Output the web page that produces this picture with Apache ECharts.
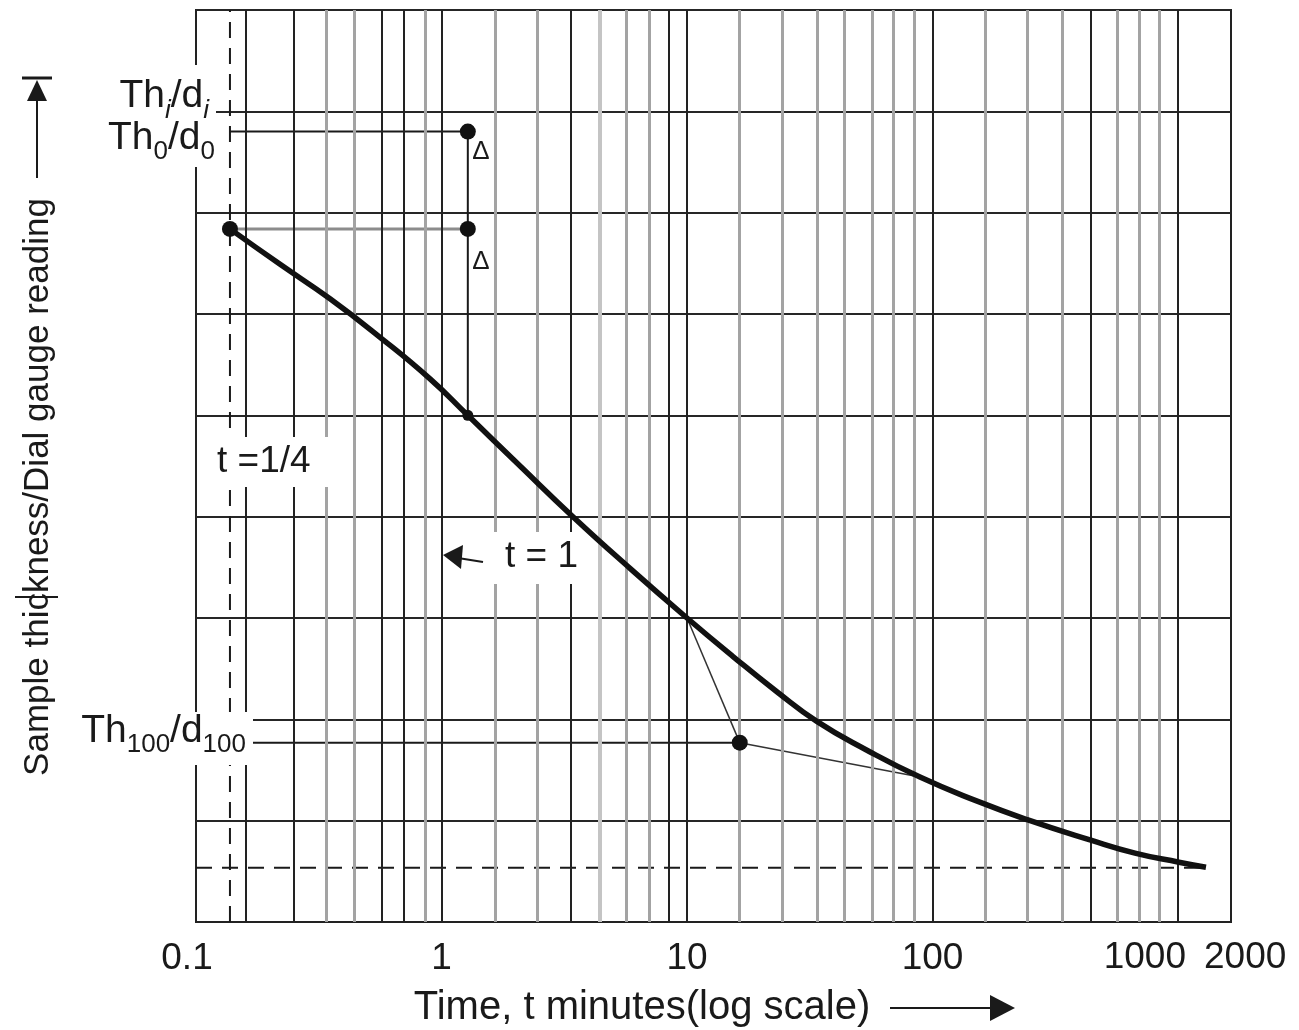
<!DOCTYPE html>
<html>
<head>
<meta charset="utf-8">
<title>Consolidation curve</title>
<script src="https://cdn.jsdelivr.net/npm/echarts@6/dist/echarts.min.js"></script>
<style>
  html, body { margin: 0; padding: 0; background: #fff; }
  #chart { width: 1299px; height: 1030px; }
</style>
</head>
<body>
<div id="chart"></div>
<script>
// curve: time (min, log scale) and dial reading (grid units, 0 = bottom)
var curveT = [0.1375, 0.220, 0.3515, 0.562, 0.898, 1.28, 2.09, 3.43, 5.86, 10, 15.4, 23.3, 33.8, 53.6, 88.9, 153, 243, 438, 668, 1009, 1300];
var curveR = [6.84, 6.49, 6.15, 5.77, 5.36, 5.00, 4.50, 4.00, 3.49, 3.00, 2.62, 2.27, 1.98, 1.70, 1.43, 1.19, 1.01, 0.81, 0.68, 0.59, 0.54];

// construction points
var dotT = [0.1375, 1.28, 1.28, 1.28, 16.4];
var dotR = [6.84, 7.80, 6.84, 5.00, 1.77];
var dotSize = [16, 16, 16, 11, 16];

// construction lines [t, r]
var th0Line = [[0.1375, 7.80], [1.28, 7.80]];
var startLine = [[0.1375, 6.84], [1.28, 6.84]];
var deltaLine = [[1.28, 7.80], [1.28, 5.00]];
var tan1 = [[10, 3.00], [16.4, 1.77]];
var tan2 = [[16.4, 1.77], [88.9, 1.43]];
var th100Line = [[0.1, 1.77], [16.4, 1.77]];
var dashV = [[0.1375, 0], [0.1375, 9]];
var dashH = [[0.1, 0.536], [1300, 0.536]];

// vertical grid of the printed log paper
var darkGrid = [0.164, 0.246, 0.567, 0.70, 1, 3.37, 8.45, 10, 100, 442, 1000];
var grayGrid = [0.338, 0.444, 0.857, 1.65, 2.45, 5.64, 7.0, 16.4, 24.4, 33.8, 43.6, 56.7, 69.0, 84.1, 164, 243, 337, 564, 694, 837];
var lightGrid = [4.42];

var tickLabels = ['0.1', '1', '10', '100', ''];
var extraLabels = ['1000', '2000'];

var FONT = '"Liberation Sans", Arial, Helvetica, sans-serif';
var INK = '#1a1a1a';

function seg(data, color, width, type, z) {
  return {
    type: 'line', data: data, z: z || 3, silent: true,
    symbol: 'none', animation: false,
    lineStyle: { color: color, width: width, type: type || 'solid' }
  };
}

function gridLines(vals, color, width) {
  return {
    type: 'line', data: [], z: 1, silent: true, animation: false,
    markLine: {
      silent: true, symbol: ['none', 'none'], animation: false,
      label: { show: false },
      lineStyle: { color: color, width: width, type: 'solid' },
      data: vals.map(function (v) { return { xAxis: v }; })
    }
  };
}

var subRich = {
  m: { fontSize: 39, fontFamily: FONT, color: INK, lineHeight: 39 },
  s: { fontSize: 26, fontFamily: FONT, color: INK, lineHeight: 26, padding: [28, 0, 0, 0] },
  si: { fontSize: 26, fontFamily: FONT, color: INK, fontStyle: 'italic', lineHeight: 26, padding: [30, 0, 0, 0] }
};

function box(x, y, w, h) {
  return { type: 'rect', z: 100, silent: true, shape: { x: x, y: y, width: w, height: h }, style: { fill: '#fff' } };
}
function txt(x, y, text, size, align, extra) {
  var el = {
    type: 'text', z: 101, silent: true, x: x, y: y,
    style: { text: text, fontSize: size, fontFamily: FONT, fill: INK, align: align || 'left', verticalAlign: 'middle' }
  };
  if (extra) { for (var k in extra) el[k] = extra[k]; }
  return el;
}
function richTxt(x, y, text) {
  return {
    type: 'text', z: 101, silent: true, x: x, y: y,
    style: { text: text, rich: subRich, align: 'right', verticalAlign: 'middle', fontFamily: FONT, fill: INK }
  };
}

var chart = echarts.init(document.getElementById('chart'));
chart.setOption({
  animation: false,
  backgroundColor: '#fff',
  grid: { left: 196, right: 68, top: 10, bottom: 108, show: true, borderColor: '#222', borderWidth: 2, backgroundColor: 'transparent' },
  xAxis: {
    type: 'log', logBase: 10, min: 0.1, max: 1644,
    axisLine: { show: true, lineStyle: { color: '#222', width: 2 } },
    axisTick: { show: false },
    splitLine: { show: false },
    minorSplitLine: { show: false },
    axisLabel: {
      margin: 18, fontSize: 37, fontFamily: FONT, color: INK,
      formatter: function (v, i) { return i === 0 ? '{l|' + tickLabels[0] + '}' : (tickLabels[i] || ''); },
      rich: { l: { fontSize: 37, fontFamily: FONT, color: INK, padding: [0, 18, 0, 0] } }
    }
  },
  yAxis: {
    type: 'value', min: 0, max: 9, interval: 1,
    axisLine: { show: false }, axisTick: { show: false }, axisLabel: { show: false },
    splitLine: { show: true, lineStyle: { color: '#262626', width: 2 } }
  },
  series: [
    gridLines(grayGrid, '#a3a3a3', 3),
    gridLines(lightGrid, '#c4c4c4', 4),
    gridLines(darkGrid, '#222', 2),
    seg(dashV, INK, 2, [16, 10], 3),
    seg(dashH, INK, 2, [16, 10], 3),
    seg(th0Line, INK, 2, 'solid', 3),
    seg(startLine, '#8c8c8c', 3, 'solid', 3),
    seg(deltaLine, INK, 2, 'solid', 3),
    seg(th100Line, INK, 2, 'solid', 3),
    seg(tan1, '#333', 1.5, 'solid', 3),
    seg(tan2, '#333', 1.5, 'solid', 3),
    {
      type: 'line', z: 5, silent: true, animation: false,
      smooth: 0.5, symbol: 'none',
      lineStyle: { color: '#111', width: 5.5 },
      data: curveT.map(function (t, i) { return [t, curveR[i]]; })
    },
    {
      type: 'scatter', z: 6, silent: true, animation: false,
      itemStyle: { color: '#111', opacity: 1 },
      symbolSize: function (v, p) { return dotSize[p.dataIndex]; },
      data: dotT.map(function (t, i) { return [t, dotR[i]]; })
    }
  ],
  graphic: [
    box(96, 65, 120, 102),
    box(60, 712, 193, 53),
    box(205, 437, 130, 50),
    box(488, 532, 94, 52),
    richTxt(209, 96, '{m|Th}{si|i}{m|/d}{si|i}'),
    richTxt(215, 138, '{m|Th}{s|0}{m|/d}{s|0}'),
    richTxt(246, 731, '{m|Th}{s|100}{m|/d}{s|100}'),
    txt(217, 462, 't =1/4', 37, 'left'),
    txt(505, 557, 't = 1', 37, 'left'),
    txt(481, 152, '\u0394', 26, 'center'),
    txt(481, 262, '\u0394', 26, 'center'),
    txt(1186, 958, extraLabels[0], 37, 'right'),
    txt(1204, 958, extraLabels[1], 37, 'left'),
    txt(642, 1008, 'Time, t minutes(log scale)', 40, 'center'),
    txt(38, 487, 'Sample thickness/Dial gauge reading', 35, 'center', { rotation: Math.PI / 2 }),
    // arrows
    { type: 'line', z: 101, silent: true, shape: { x1: 890, y1: 1008, x2: 995, y2: 1008 }, style: { stroke: INK, lineWidth: 2 } },
    { type: 'polygon', z: 101, silent: true, shape: { points: [[990, 995], [990, 1021], [1015, 1008]] }, style: { fill: INK } },
    { type: 'line', z: 101, silent: true, shape: { x1: 37, y1: 178, x2: 37, y2: 95 }, style: { stroke: INK, lineWidth: 2 } },
    { type: 'polygon', z: 101, silent: true, shape: { points: [[37, 80], [27, 101], [47, 101]] }, style: { fill: INK } },
    { type: 'line', z: 101, silent: true, shape: { x1: 22, y1: 78, x2: 52, y2: 78 }, style: { stroke: INK, lineWidth: 3 } },
    { type: 'line', z: 101, silent: true, shape: { x1: 15, y1: 597, x2: 58, y2: 597 }, style: { stroke: INK, lineWidth: 2 } },
    { type: 'line', z: 101, silent: true, shape: { x1: 458, y1: 558, x2: 483, y2: 562 }, style: { stroke: INK, lineWidth: 2 } },
    { type: 'polygon', z: 101, silent: true, shape: { points: [[443, 555], [463, 545], [461, 569]] }, style: { fill: INK } }
  ]
});
</script>
</body>
</html>
